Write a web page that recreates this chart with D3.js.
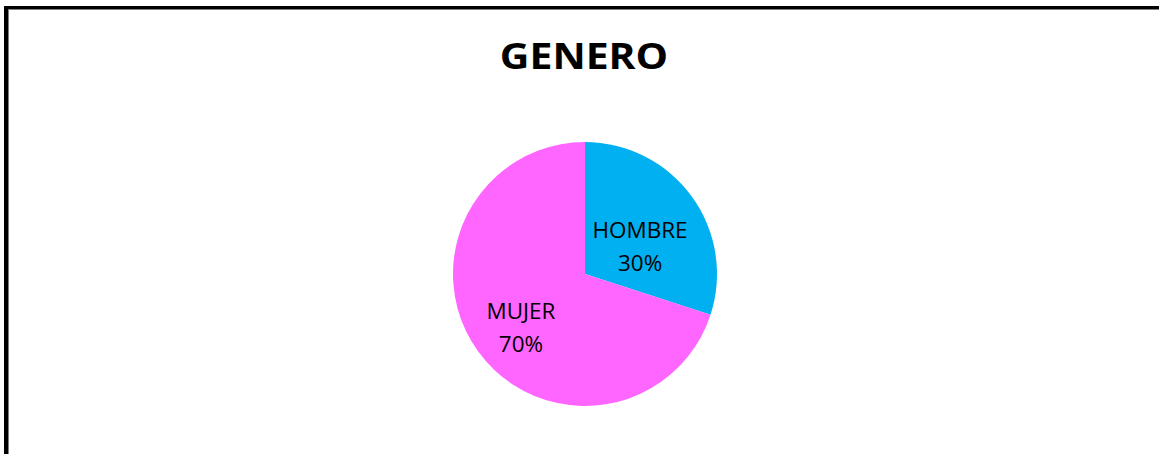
<!DOCTYPE html>
<html>
<head>
<meta charset="utf-8">
<script src="https://cdn.jsdelivr.net/npm/d3@7"></script>
<style>
  html, body { margin: 0; padding: 0; background: #fff; }
  svg { display: block; }
</style>
</head>
<body>
<div id="container"></div>
<script>
var categories = ["HOMBRE", "MUJER"]
var values = [30, 70]
var colours = ["#00B0F0", "#FF66FF"]
var title = "GENERO"

var W = 1159, H = 454
var cx = 585, cy = 274, R = 132
var font = "'Open Sans', 'DejaVu Sans', sans-serif"
// the reference font is a little wider than Open Sans, stretch it to match
var titleStretch = 1.17, labelStretch = 1.045

var svg = d3.select("#container").append("svg")
    .attr("width", W)
    .attr("height", H)

// frame (runs past the right and bottom of the window)
svg.append("rect").attr("x", 4).attr("y", 6).attr("width", 4).attr("height", H).attr("fill", "#000")
svg.append("rect").attr("x", 4).attr("y", 6).attr("width", W).attr("height", 3).attr("fill", "#000")
svg.append("rect").attr("x", 8).attr("y", 9).attr("width", 1).attr("height", H).attr("fill", "#7f7f7f")
svg.append("rect").attr("x", 8).attr("y", 9).attr("width", W).attr("height", 1).attr("fill", "#7f7f7f")

svg.append("text")
    .attr("transform", "translate(584,68.5) scale(" + titleStretch + ",1)")
    .attr("text-anchor", "middle")
    .attr("font-family", font)
    .attr("font-weight", "bold")
    .attr("font-size", "35px")
    .attr("fill", "#000")
    .text(title)

var data = categories.map(function(c, i) { return {name: c, value: values[i], colour: colours[i]} })

var pie = d3.pie().sort(null).value(function(d) { return d.value })
var arc = d3.arc().innerRadius(0).outerRadius(R)
var labelArc = d3.arc().innerRadius(R * 0.6).outerRadius(R * 0.6)

// excel "best fit" nudges for the two labels
var nudge = {HOMBRE: [-9, 27], MUJER: [0, 15]}

var g = svg.append("g").attr("transform", "translate(" + cx + "," + cy + ")")

var slices = pie(data)

g.selectAll("path")
    .data(slices)
    .enter().append("path")
    .attr("d", arc)
    .attr("fill", function(d) { return d.data.colour })

var total = d3.sum(values)

var labels = g.selectAll(".lbl")
    .data(slices)
    .enter().append("text")
    .attr("class", "lbl")
    .attr("text-anchor", "middle")
    .attr("font-family", font)
    .attr("font-size", "21.5px")
    .attr("fill", "#000")
    .attr("transform", function(d) {
      var c = labelArc.centroid(d), n = nudge[d.data.name]
      return "translate(" + (c[0] + n[0]) + "," + (c[1] + n[1]) + ") scale(" + labelStretch + ",1)"
    })

labels.append("tspan")
    .attr("x", 0)
    .attr("y", -16.5)
    .text(function(d) { return d.data.name })

labels.append("tspan")
    .attr("x", 0)
    .attr("y", 16.5)
    .text(function(d) { return Math.round(d.data.value / total * 100) + "%" })
</script>
</body>
</html>
